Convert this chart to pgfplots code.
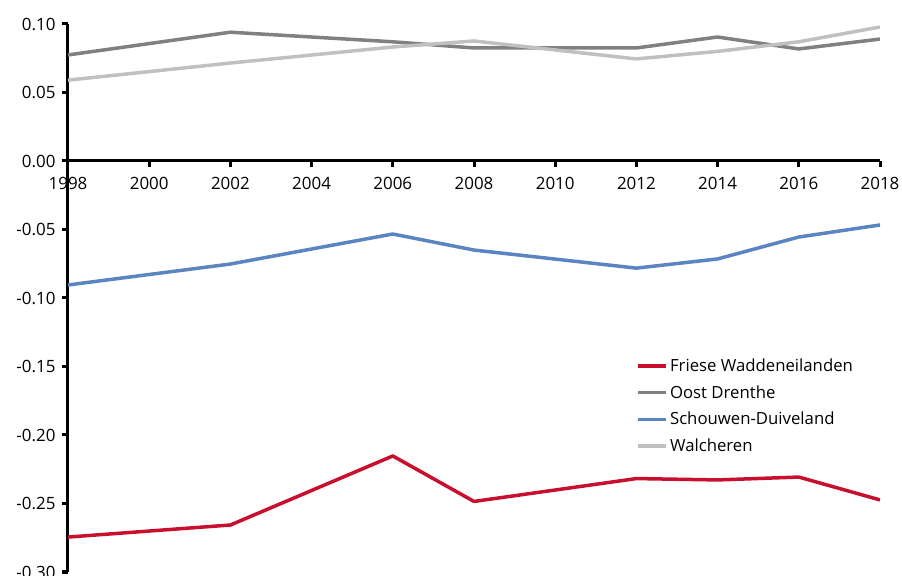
\documentclass[border=0pt]{standalone}
\usepackage{fontspec}
\setmainfont{Open Sans}
\usepackage{pgfplots}
\pgfplotsset{compat=1.18}

\definecolor{friesred}{RGB}{200,16,46}
\definecolor{oostgray}{RGB}{128,128,128}
\definecolor{schouwblue}{RGB}{91,133,192}
\definecolor{walchgray}{RGB}{192,192,192}

\begin{document}
\begin{tikzpicture}
\begin{axis}[
  width=812bp, height=548bp, scale only axis,
  xmin=1998, xmax=2018, ymin=-0.30, ymax=0.10,
  axis x line=middle, axis y line=left,
  axis line style={-, line width=3bp, black},
  hide obscured x ticks=false, hide obscured y ticks=false,
  xtick={1998,2000,2002,2004,2006,2008,2010,2012,2014,2016,2018},
  ytick={-0.30,-0.25,-0.20,-0.15,-0.10,-0.05,0,0.05,0.10},
  tick align=outside, major tick length=6bp,
  tick style={line width=3bp, black},
  /pgf/number format/assume math mode=true,
  tick label style={font=\fontsize{17}{20}\selectfont, text=black},
  xticklabel style={/pgf/number format/1000 sep={}, yshift=-7bp},
  yticklabel style={xshift=-3bp, /pgf/number format/fixed, /pgf/number format/fixed zerofill, /pgf/number format/precision=2},
  every axis plot/.append style={line width=3.5bp, line join=round},
  legend style={at={(rel axis cs:0.70,0.393)}, anchor=north west, draw=none, fill=none,
    font=\fontsize{16.8}{20}\selectfont, row sep=8.5bp, inner sep=0pt},
  legend cell align=left,
  legend image code/.code={\draw[#1] (0bp,0bp) -- (28bp,0bp);},
]
\addplot[color=friesred] coordinates {
(1998,-0.2745) (2002,-0.2657) (2006,-0.2153) (2008,-0.2485) (2012,-0.2318) (2014,-0.2328) (2016,-0.2307) (2018,-0.2474)
};
\addlegendentry{Friese Waddeneilanden}
\addplot[color=oostgray] coordinates {
(1998,0.0774) (2002,0.0940) (2006,0.0870) (2008,0.0825) (2012,0.0825) (2014,0.0905) (2016,0.0818) (2018,0.0890)
};
\addlegendentry{Oost Drenthe}
\addplot[color=schouwblue] coordinates {
(1998,-0.0905) (2002,-0.0752) (2006,-0.0533) (2008,-0.0650) (2012,-0.0782) (2014,-0.0715) (2016,-0.0555) (2018,-0.0467)
};
\addlegendentry{Schouwen-Duiveland}
\addplot[color=walchgray] coordinates {
(1998,0.0590) (2002,0.0715) (2006,0.0832) (2008,0.0876) (2012,0.0745) (2014,0.0800) (2016,0.0870) (2018,0.0978)
};
\addlegendentry{Walcheren}
\end{axis}
\pgfresetboundingbox
\useasboundingbox (-68bp,-4bp) rectangle (834bp,572bp);
\end{tikzpicture}
\end{document}
